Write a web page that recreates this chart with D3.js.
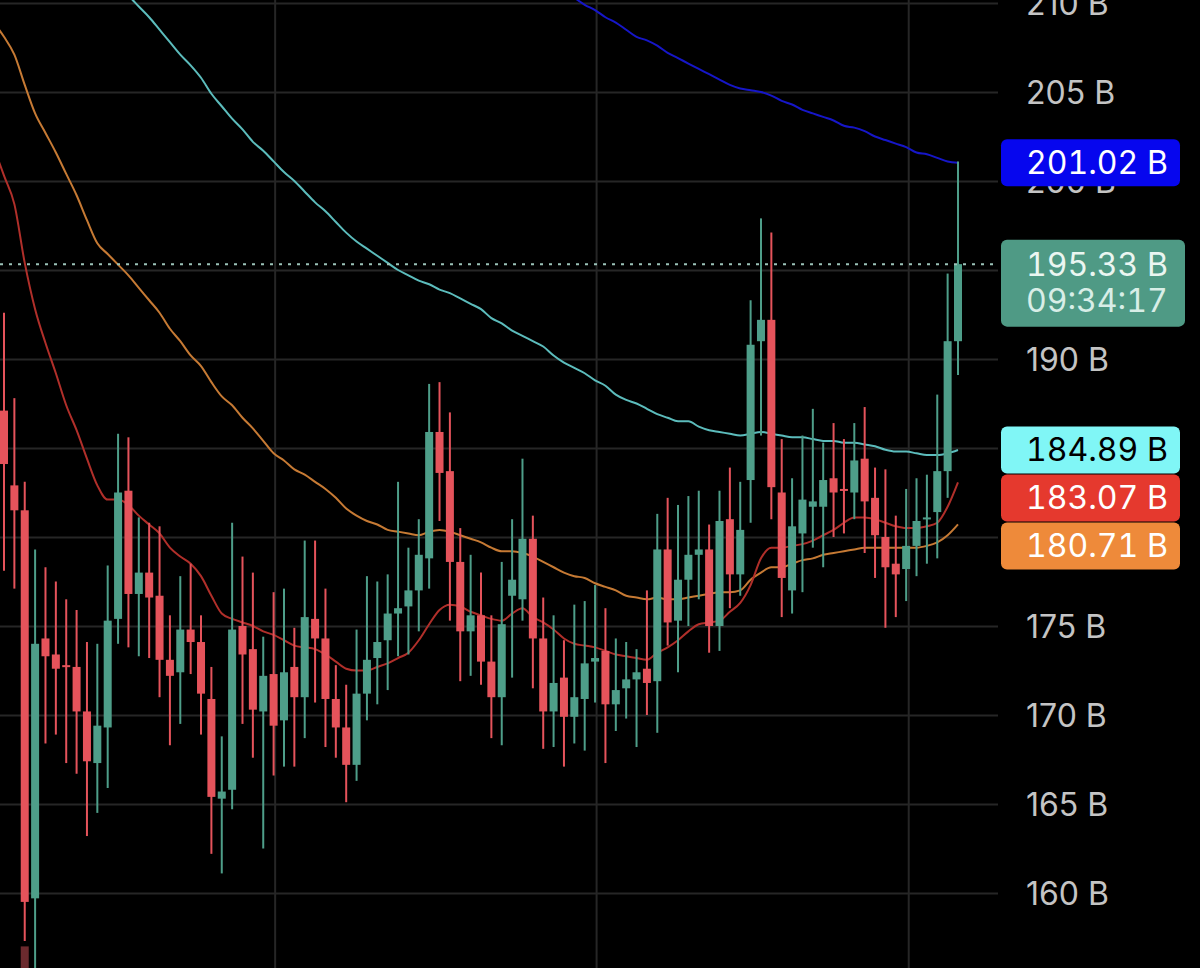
<!DOCTYPE html>
<html>
<head>
<meta charset="utf-8">
<script src="https://cdn.jsdelivr.net/npm/d3@7"></script>
<style>
    html, body { margin: 0; padding: 0; background: #000; }
    svg { display: block; }
    text { font-family: Inter, 'Noto Sans', sans-serif; font-size: 32px; }
    .tag-text { font-feature-settings: "tnum"; }
</style>
</head>
<body>
<div id="chart"></div>
<script>
// candles, one value per bar (billions)
var opens = [
    187.1, 182.9, 181.5, 159.7, 174.3, 173.4, 172.8, 172.7, 170.2, 167.3,
    169.3, 175.4, 182.6, 176.8, 178.0, 176.7, 173.1, 172.4, 174.8, 174.1,
    170.9, 165.3, 165.8, 175.0, 173.7, 170.2, 172.3, 169.7, 172.7, 171.0,
    175.4, 174.3, 170.9, 169.3, 167.2, 171.2, 173.2, 174.2, 175.7, 176.1,
    177.0, 178.8, 185.9, 183.7, 178.6, 174.7, 175.6, 173.0, 171.0, 176.7,
    176.5, 179.9, 174.3, 170.2, 172.1, 169.9, 170.9, 173.0, 173.6, 170.6,
    171.5, 172.0, 172.6, 171.9, 179.3, 175.3, 177.6, 179.0, 179.3, 175.0,
    181.0, 177.9, 183.2, 191.0, 192.2, 182.5, 177.0, 180.2, 181.7, 181.7,
    183.3, 182.7, 182.5, 184.4, 182.2, 180.0, 178.5, 178.2, 179.5, 181.0,
    181.4, 183.7, 191.0
];
var highs = [
    192.6, 187.8, 183.1, 179.3, 178.3, 177.5, 176.5, 175.9, 174.1, 174.0,
    178.4, 185.8, 185.6, 181.1, 180.8, 180.6, 175.6, 177.8, 178.5, 175.6,
    172.7, 168.8, 180.8, 178.9, 178.0, 174.4, 176.9, 177.1, 174.9, 179.8,
    179.8, 177.1, 172.8, 171.7, 174.8, 177.8, 177.5, 177.9, 183.1, 179.4,
    181.0, 188.6, 188.7, 187.0, 180.5, 179.0, 178.0, 175.6, 178.6, 181.0,
    184.4, 181.2, 176.6, 175.6, 174.2, 176.2, 176.4, 177.3, 176.0, 174.3,
    174.1, 173.7, 177.0, 181.3, 182.2, 181.8, 182.3, 182.6, 180.7, 182.6,
    183.9, 183.1, 193.3, 197.9, 197.1, 185.5, 183.3, 185.7, 187.2, 185.3,
    186.4, 185.5, 186.4, 187.3, 183.9, 183.8, 181.2, 182.7, 183.3, 183.5,
    188.0, 194.8, 201.1
];
var lows = [
    178.1, 177.1, 157.3, 155.0, 168.4, 168.9, 167.3, 166.7, 163.2, 164.5,
    165.9, 174.0, 173.8, 173.3, 173.2, 171.0, 168.3, 169.5, 172.3, 168.9,
    162.2, 161.1, 164.7, 169.5, 167.6, 162.5, 166.6, 167.1, 167.1, 168.7,
    170.7, 168.2, 167.6, 165.1, 166.3, 169.7, 170.6, 171.4, 173.3, 173.4,
    174.7, 177.1, 180.9, 175.3, 171.9, 172.2, 171.7, 168.7, 168.3, 172.1,
    175.3, 171.5, 168.1, 168.2, 167.1, 168.4, 168.0, 170.7, 167.3, 169.1,
    169.8, 168.2, 170.0, 169.0, 173.9, 172.4, 175.0, 176.5, 173.5, 173.6,
    176.0, 176.7, 180.8, 185.7, 181.0, 175.5, 175.7, 176.9, 179.4, 178.3,
    180.0, 180.2, 181.0, 179.1, 177.7, 174.9, 175.5, 176.4, 177.8, 178.5,
    178.8, 182.2, 189.1
];
var closes = [
    184.1, 181.5, 159.5, 174.0, 173.3, 172.6, 172.7, 170.2, 167.4, 169.4,
    175.3, 182.5, 176.8, 178.0, 176.6, 173.1, 172.2, 174.8, 174.1, 171.2,
    165.4, 165.7, 174.8, 173.4, 170.3, 172.2, 169.4, 172.4, 171.0, 175.5,
    174.3, 170.9, 169.3, 167.2, 171.2, 173.1, 174.1, 175.7, 176.0, 177.0,
    179.0, 185.9, 183.6, 178.6, 174.7, 175.6, 173.0, 171.0, 175.1, 177.6,
    179.9, 174.3, 170.2, 171.8, 169.9, 171.0, 172.9, 173.2, 170.6, 171.4,
    172.0, 172.4, 171.8, 179.3, 175.2, 177.6, 179.0, 179.3, 175.0, 180.9,
    177.9, 180.4, 190.8, 192.2, 182.8, 177.7, 180.6, 182.1, 182.0, 183.2,
    182.5, 182.6, 184.3, 182.0, 180.1, 178.3, 177.9, 179.5, 180.9, 181.1,
    183.7, 191.0, 195.33
];

// moving averages, first value belongs to bar index maXXStart
var maRedStart = -1;
var maRed = [
    201.9, 200.3, 198.7, 195.4, 192.8, 190.9, 189.2, 187.4, 186.0, 184.4,
    182.9, 182.1, 182.1, 181.8, 181.2, 180.7, 180.2, 179.4, 178.9, 178.5,
    177.8, 176.7, 175.7, 175.4, 175.2, 175.0, 174.7, 174.5, 174.2, 173.9,
    173.8, 173.7, 173.4, 173.0, 172.6, 172.5, 172.5, 172.7, 172.9, 173.2,
    173.5, 174.2, 175.1, 175.9, 176.2, 176.1, 175.8, 175.6, 175.4, 175.3,
    175.7, 176.0, 175.5, 175.2, 174.8, 174.3, 174.0, 173.9, 173.8, 173.6,
    173.4, 173.3, 173.2, 173.1, 173.5, 173.8, 174.2, 174.7, 175.1, 175.2,
    175.3, 175.8, 176.3, 177.3, 178.8, 179.4, 179.4, 179.5, 179.6, 179.8,
    180.1, 180.4, 180.8, 181.1, 181.1, 181.0, 180.8, 180.6, 180.5, 180.5,
    180.6, 180.8, 181.7, 183.07
];
var maOrangeStart = -1;
var maOrange = [
    208.9, 208.1, 207.1, 205.4, 203.8, 202.7, 201.6, 200.4, 199.2, 197.8,
    196.5, 195.9, 195.3, 194.7, 194.0, 193.3, 192.6, 191.7, 191.0, 190.2,
    189.6, 188.7, 187.9, 187.4, 186.7, 186.1, 185.4, 184.7, 184.3, 183.8,
    183.5, 183.1, 182.7, 182.2, 181.6, 181.2, 180.9, 180.7, 180.4, 180.3,
    180.2, 180.1, 180.3, 180.4, 180.3, 180.1, 179.9, 179.7, 179.4, 179.2,
    179.2, 179.1, 178.9, 178.6, 178.3, 178.0, 177.8, 177.7, 177.4, 177.2,
    177.0, 176.7, 176.6, 176.5, 176.6, 176.5, 176.5, 176.6, 176.7, 176.8,
    176.9, 176.9, 177.0, 177.6, 178.0, 178.3, 178.3, 178.5, 178.7, 178.8,
    179.0, 179.1, 179.2, 179.3, 179.4, 179.4, 179.4, 179.4, 179.4, 179.4,
    179.5, 179.7, 180.1, 180.71
];
var maCyanStart = 11;
var maCyan = [
    210.8, 210.4, 209.8, 209.2, 208.5, 207.8, 207.1, 206.5, 205.8,
    204.9, 204.2, 203.5, 202.9, 202.2, 201.7, 201.1, 200.5, 200.0, 199.4,
    198.8, 198.3, 197.7, 197.1, 196.6, 196.2, 195.8, 195.4, 195.0, 194.7,
    194.4, 194.2, 193.9, 193.7, 193.4, 193.1, 192.8, 192.3, 192.0, 191.6,
    191.3, 191.0, 190.7, 190.2, 189.8, 189.5, 189.2, 188.8, 188.5, 188.0,
    187.7, 187.5, 187.2, 186.9, 186.7, 186.5, 186.5, 186.2, 186.0, 185.9,
    185.8, 185.7, 185.8, 185.9, 185.8, 185.7, 185.6, 185.6, 185.5, 185.4,
    185.4, 185.3, 185.3, 185.2, 185.1, 184.9, 184.8, 184.8, 184.7, 184.6,
    184.6, 184.7, 184.89
];
var maBlueStart = 55;
var maBlue = [
    210.3, 209.9, 209.6, 209.2, 208.9,
    208.5, 208.1, 207.9, 207.6, 207.2, 206.9, 206.6, 206.3, 206.0, 205.7,
    205.4, 205.2, 205.1, 205.0, 204.8, 204.5, 204.3, 204.0, 203.8, 203.6,
    203.4, 203.1, 203.0, 202.8, 202.5, 202.3, 202.1, 201.9, 201.6, 201.5,
    201.3, 201.1, 201.02
];

// axis ticks and time grid (bar index of each day break)
var yTicks = [160, 165, 170, 175, 180, 185, 190, 195, 200, 205, 210];
var dayBreaks = [26.1, 57.1, 87.2];
var lastPrice = 195.33;
var countdown = "09:34:17";
// dark volume block under the big drop bar
var volumeBars = [{ i: 2, top: 157.0 }];

const width = 1200;
const height = 968;
const plotRight = 998;
const tagH = 47;

const svg = d3.select("#chart")
    .append("svg")
    .attr("width", width)
    .attr("height", height)
    .style("background", "#000");

const x = d3.scaleLinear().domain([0, 92]).range([4, 958]);
const y = d3.scaleLinear().domain([160, 210]).range([893, 3]);

// price tags on the right (worked out first so hidden axis labels can be skipped)
var fmt = d3.format(".2f");
var tags = [
    { v: maBlue[maBlue.length - 1], bg: "#0606ee", fg: "#ffffff" },
    { v: maCyan[maCyan.length - 1], bg: "#80f6f6", fg: "#000000" },
    { v: maRed[maRed.length - 1], bg: "#e5392e", fg: "#ffffff" },
    { v: maOrange[maOrange.length - 1], bg: "#ee8a3a", fg: "#ffffff" }
];
tags.forEach(t => { t.cy = y(t.v); t.h = tagH; t.w = 179; });

// push the lower group apart so tags do not overlap
var stack = tags.slice(1).sort((a, b) => a.cy - b.cy);
for (var k = 1; k < stack.length; k++) {
    var minY = stack[k - 1].cy + tagH + 1;
    if (stack[k].cy < minY) stack[k].cy = minY;
}

var py = y(lastPrice);
var boxes = tags.map(t => [t.cy - t.h / 2, t.cy + t.h / 2]);
boxes.push([py - 24.5, py + 62.5]);

// a label is left out when a tag covers it completely
var labelTicks = yTicks.filter(v => {
    var ty = y(v);
    return !boxes.some(b => ty - 12 > b[0] && ty + 12 < b[1]);
});

// grid
svg.append("g")
    .attr("class", "hgrid")
    .call(d3.axisRight(y).tickValues(yTicks).tickSize(plotRight).tickFormat(""))
    .call(g => g.select(".domain").remove())
    .selectAll("line")
    .attr("stroke", "#262626")
    .attr("stroke-width", 2);

svg.append("g")
    .attr("class", "vgrid")
    .call(d3.axisBottom(x).tickValues(dayBreaks).tickSize(height).tickFormat(""))
    .call(g => g.select(".domain").remove())
    .selectAll("line")
    .attr("stroke", "#262626")
    .attr("stroke-width", 2);

// right axis labels
svg.append("g")
    .attr("transform", "translate(1026,0)")
    .call(d3.axisRight(y).tickValues(labelTicks).tickSize(0).tickPadding(0)
        .tickFormat(d => d + " B"))
    .call(g => g.select(".domain").remove())
    .call(g => g.attr("font-family", null).attr("font-size", null))
    .selectAll("text")
    .attr("dy", "0.36em")
    .attr("fill", "#c4c4c4");

// volume block
svg.selectAll(".vol")
    .data(volumeBars)
    .enter().append("rect")
    .attr("class", "vol")
    .attr("x", d => x(d.i) - 4)
    .attr("width", 8)
    .attr("y", d => y(d.top))
    .attr("height", d => height - y(d.top))
    .attr("fill", "#6b2a2e");

// moving average lines
var line = d3.line()
    .x(d => x(d[0]))
    .y(d => y(d[1]))
    .curve(d3.curveMonotoneX);

function pairs(vals, start) {
    return vals.map((v, k) => [start + k, v]);
}

var maLines = [
    { vals: maBlue, start: maBlueStart, color: "#1616c8" },
    { vals: maCyan, start: maCyanStart, color: "#5cbcbc" },
    { vals: maOrange, start: maOrangeStart, color: "#c67a34" },
    { vals: maRed, start: maRedStart, color: "#b02f2a" }
];

svg.selectAll(".ma")
    .data(maLines)
    .enter().append("path")
    .attr("class", "ma")
    .attr("d", d => line(pairs(d.vals, d.start)))
    .attr("fill", "none")
    .attr("stroke", d => d.color)
    .attr("stroke-width", 2);

// candles
var bars = opens.map((o, i) => ({ i: i, o: o, h: highs[i], l: lows[i], c: closes[i] }));
var up = "#4e9e89", down = "#e5535b";

var candle = svg.selectAll(".candle")
    .data(bars)
    .enter().append("g")
    .attr("class", "candle");

candle.append("line")
    .attr("x1", d => x(d.i))
    .attr("x2", d => x(d.i))
    .attr("y1", d => y(d.h))
    .attr("y2", d => y(d.l))
    .attr("stroke", d => d.c >= d.o ? up : down)
    .attr("stroke-width", 2);

candle.append("rect")
    .attr("x", d => x(d.i) - 4)
    .attr("width", 8)
    .attr("y", d => y(Math.max(d.o, d.c)))
    .attr("height", d => Math.max(2, Math.abs(y(d.o) - y(d.c))))
    .attr("fill", d => d.c >= d.o ? up : down);

// last price dotted line
svg.append("line")
    .attr("x1", 0)
    .attr("x2", plotRight)
    .attr("y1", py)
    .attr("y2", py)
    .attr("stroke", "#9cc3b9")
    .attr("stroke-width", 2)
    .attr("stroke-dasharray", "3,6");

var tagG = svg.selectAll(".tag")
    .data(tags)
    .enter().append("g")
    .attr("class", "tag");

tagG.append("rect")
    .attr("x", 1001)
    .attr("y", d => d.cy - d.h / 2)
    .attr("width", d => d.w)
    .attr("height", d => d.h)
    .attr("rx", 6)
    .attr("fill", d => d.bg);

tagG.append("text")
    .attr("class", "tag-text")
    .attr("x", 1026)
    .attr("y", d => d.cy)
    .attr("dy", "0.36em")
    .attr("fill", d => d.fg)
    .text(d => fmt(d.v) + " B");

// last price tag with countdown
svg.append("rect")
    .attr("x", 1001)
    .attr("y", py - 24.5)
    .attr("width", 184)
    .attr("height", 87)
    .attr("rx", 6)
    .attr("fill", "#4f9a85");

svg.append("text")
    .attr("class", "tag-text")
    .attr("x", 1026)
    .attr("y", py)
    .attr("dy", "0.36em")
    .attr("fill", "#eaf6f1")
    .text(fmt(lastPrice) + " B");

svg.append("text")
    .attr("class", "tag-text")
    .attr("x", 1026)
    .attr("y", py + 36)
    .attr("dy", "0.36em")
    .attr("fill", "#d8eee7")
    .text(countdown);
</script>
</body>
</html>
